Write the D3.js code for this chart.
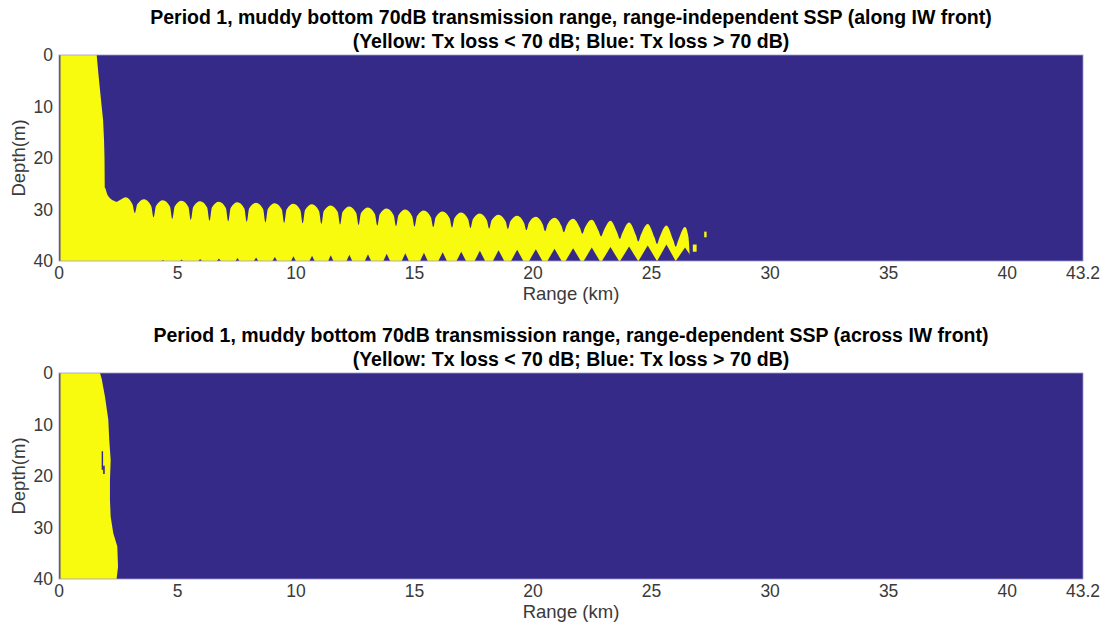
<!DOCTYPE html>
<html>
<head>
<meta charset="utf-8">
<script src="https://cdn.jsdelivr.net/npm/d3@7"></script>
<style>
  html, body { margin: 0; padding: 0; background: #fff; }
  svg { display: block; font-family: "Liberation Sans", Arial, sans-serif; }
</style>
</head>
<body>
<svg id="chart" width="1104" height="637"></svg>
<script>
// ---- axes ----
const rangeTicks = [0, 5, 10, 15, 20, 25, 30, 35, 40, 43.2];
const rangeTickLabels = ["0", "5", "10", "15", "20", "25", "30", "35", "40", "43.2"];
const depthTicks = [0, 10, 20, 30, 40];
const rangeMaxKm = 43.2;
const depthMaxM = 40;
const firstRangeKm = 0.06;   // first range column (source position), loss undefined -> blue

const titlesTop = [
  "Period 1, muddy bottom 70dB transmission range, range-independent SSP (along IW front)",
  "(Yellow: Tx loss < 70 dB; Blue: Tx loss > 70 dB)"
];
const titlesBottom = [
  "Period 1, muddy bottom 70dB transmission range, range-dependent SSP (across IW front)",
  "(Yellow: Tx loss < 70 dB; Blue: Tx loss > 70 dB)"
];

// ---- panel 1: range-independent SSP ----
// near-source region where loss < 70 dB over the whole water column
const nearTopKm    = [1.59, 1.66, 1.73, 1.80, 1.86, 1.90, 1.92, 1.93];
const nearTopDepth = [0, 3.6, 6.8, 10.0, 12.6, 16.5, 20.0, 25.8];

// bottom-trapped ducted band: lead-in, then one entry per interference cycle
const leadKm    = [1.86, 1.93, 2.05, 2.20];
const leadDepth = [25.8, 25.8, 27.2, 28.0];
const spikeKm = [2.42, 3.20, 3.99, 4.78, 5.56, 6.35, 7.14, 7.92, 8.71, 9.50, 10.28,
  11.07, 11.86, 12.64, 13.43, 14.22, 15.00, 15.79, 16.58, 17.36, 18.15, 18.94,
  19.72, 20.51, 21.30, 22.08, 22.87, 23.66, 24.44, 25.23, 26.02];
const spikeTipDepth = [28.5, 30.7, 31.5, 31.8, 32.0, 32.2, 32.3, 32.4, 32.5, 32.6, 32.7,
  32.8, 32.9, 33.0, 33.1, 33.2, 33.3, 33.4, 33.5, 33.6, 33.7, 33.8,
  34.0, 34.2, 34.4, 34.7, 35.2, 35.7, 36.2, 36.7, 37.2];
const shoulderDepth = [28.3, 29.0, 29.3, 29.4, 29.5, 29.6, 29.7, 29.8, 29.9, 30.0, 30.1,
  30.3, 30.5, 30.7, 30.9, 31.1, 31.3, 31.5, 31.7, 31.9, 32.1, 32.3,
  32.6, 32.9, 33.2, 33.6, 34.2, 34.6, 35.0, 35.5, 36.0];
const crownDepth = [27.6, 28.0, 28.2, 28.3, 28.4, 28.5, 28.6, 28.7, 28.8, 28.9, 29.0,
  29.2, 29.4, 29.6, 29.8, 30.0, 30.2, 30.4, 30.6, 30.8, 31.0, 31.2,
  31.4, 31.6, 31.8, 32.0, 32.2, 32.5, 32.8, 33.1, 33.4];
// blue notches rising from the bottom under each crown
const floorTipDepth = [40, 40, 39.8, 39.7, 39.6, 39.5, 39.4, 39.3, 39.2, 39.1, 39.0,
  38.9, 38.8, 38.7, 38.6, 38.5, 38.4, 38.3, 38.2, 38.0, 37.9, 37.8,
  37.7, 37.6, 37.5, 37.4, 37.3, 37.2, 37.0, 36.8, 37.4];
const floorHalfKm = [0, 0, 0.05, 0.06, 0.07, 0.08, 0.08, 0.09, 0.10, 0.10, 0.11,
  0.11, 0.12, 0.13, 0.14, 0.15, 0.16, 0.18, 0.20, 0.22, 0.24, 0.26,
  0.28, 0.30, 0.32, 0.34, 0.36, 0.38, 0.39, 0.39, 0.39];
const tailKm    = [26.55, 26.62];
const tailDepth = [35.2, 40];
// isolated cells beyond the end of the band: [km0, km1, depth0, depth1]
const yellowBits = [[26.74, 26.90, 36.8, 38.2], [27.22, 27.32, 34.3, 35.4]];

// ---- panel 2: range-dependent SSP ----
const nearBotKm    = [1.73, 1.80, 1.94, 2.08, 2.12, 2.18, 2.15, 2.15, 2.18, 2.29, 2.46, 2.49, 2.43];
const nearBotDepth = [0, 1.1, 4.6, 9.1, 13.0, 16.9, 20.8, 24.7, 27.9, 31.1, 33.7, 37.6, 40];
const blueIslands  = [[1.80, 1.86, 15.2, 18.8], [1.86, 1.93, 18.0, 19.6]];

// ---- drawing ----
const YELLOW = "#f9fb0e";
const BLUE = "#352a87";
const TEXT = "#3a3a3a";
const svg = d3.select("#chart");
const x = d3.scaleLinear().domain([0, rangeMaxKm]).range([59, 1083]);

function panel(top, titles) {
  const y = d3.scaleLinear().domain([0, depthMaxM]).range([top, top + 206]);
  const g = svg.append("g");
  g.append("rect").attr("x", x(0)).attr("y", y(0))
    .attr("width", x(rangeMaxKm) - x(0)).attr("height", y(depthMaxM) - y(0))
    .attr("fill", BLUE);
  const plot = g.append("g");
  // titles
  titles.forEach((t, i) => {
    g.append("text").attr("x", (x(0) + x(rangeMaxKm)) / 2).attr("y", top - 31 + i * 24)
      .attr("text-anchor", "middle").attr("font-size", 19.5).attr("font-weight", "bold")
      .attr("fill", "#000").text(t);
  });
  // x ticks
  rangeTicks.forEach((v, i) => {
    g.append("text").attr("x", x(v)).attr("y", y(depthMaxM) + 18)
      .attr("text-anchor", "middle").attr("font-size", 17.5).attr("fill", TEXT)
      .text(rangeTickLabels[i]);
  });
  g.append("text").attr("x", (x(0) + x(rangeMaxKm)) / 2).attr("y", y(depthMaxM) + 39)
    .attr("text-anchor", "middle").attr("font-size", 18.5).attr("fill", TEXT).text("Range (km)");
  // y ticks
  depthTicks.forEach(v => {
    g.append("text").attr("x", x(0) - 6).attr("y", y(v)).attr("dy", "0.36em")
      .attr("text-anchor", "end").attr("font-size", 17.5).attr("fill", TEXT).text(v);
  });
  g.append("text")
    .attr("transform", `translate(25,${(y(0) + y(depthMaxM)) / 2}) rotate(-90)`)
    .attr("text-anchor", "middle").attr("font-size", 18.5).attr("fill", TEXT).text("Depth(m)");
  return { g, plot, y };
}

function nearField(plot, y, kms, depths) {
  const pts = [[firstRangeKm, 0]].concat(kms.map((k, i) => [k, depths[i]]));
  pts.push([kms[kms.length - 1], depthMaxM], [firstRangeKm, depthMaxM]);
  plot.append("path")
    .attr("d", d3.line().x(d => x(d[0])).y(d => y(d[1])).curve(d3.curveLinearClosed)(pts))
    .attr("fill", YELLOW);
}

function frame(g, y) {
  g.append("rect").attr("x", x(0)).attr("y", y(0))
    .attr("width", x(rangeMaxKm) - x(0)).attr("height", y(depthMaxM) - y(0))
    .attr("fill", "none").attr("stroke", "#9d99cc").attr("stroke-width", 0.8);
}

// panel 1
{
  const { g, plot, y } = panel(55, titlesTop);
  nearField(plot, y, nearTopKm, nearTopDepth);

  // upper boundary of the ducted band
  const upper = leadKm.map((k, i) => [k, leadDepth[i]]);
  const crowns = [];
  spikeKm.forEach((s, i) => {
    const next = i + 1 < spikeKm.length ? spikeKm[i + 1] : s + 0.78;
    const c = (s + next) / 2;
    upper.push([s - 0.1, shoulderDepth[i]], [s, spikeTipDepth[i]], [s + 0.1, shoulderDepth[i]],
               [c, crownDepth[i]]);
    crowns.push(c);
  });
  tailKm.forEach((k, i) => upper.push([k, tailDepth[i]]));

  plot.append("path")
    .attr("d", d3.area().x(d => x(d[0])).y0(d => y(d[1])).y1(y(depthMaxM))
      .curve(d3.curveMonotoneX)(upper))
    .attr("fill", YELLOW);

  // notches from the bottom
  const tri = d3.line().x(d => x(d[0])).y(d => y(d[1]));
  crowns.forEach((c, i) => {
    if (floorTipDepth[i] >= depthMaxM) return;
    const h = floorHalfKm[i];
    plot.append("path")
      .attr("d", tri([[c - h, depthMaxM], [c, floorTipDepth[i]], [c + h, depthMaxM]]) + "Z")
      .attr("fill", BLUE);
  });

  yellowBits.forEach(b => {
    plot.append("rect").attr("x", x(b[0])).attr("y", y(b[2]))
      .attr("width", x(b[1]) - x(b[0])).attr("height", y(b[3]) - y(b[2]))
      .attr("fill", YELLOW);
  });
  frame(g, y);
}

// panel 2
{
  const { g, plot, y } = panel(373, titlesBottom);
  nearField(plot, y, nearBotKm, nearBotDepth);
  blueIslands.forEach(b => {
    plot.append("rect").attr("x", x(b[0])).attr("y", y(b[2]))
      .attr("width", x(b[1]) - x(b[0])).attr("height", y(b[3]) - y(b[2]))
      .attr("fill", BLUE);
  });
  frame(g, y);
}
</script>
</body>
</html>
